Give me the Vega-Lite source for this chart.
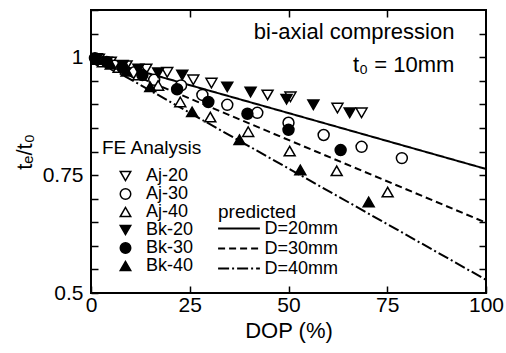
{
  "$schema": "https://vega.github.io/schema/vega-lite/v6.json",
  "width": 395,
  "height": 283,
  "autosize": {"type": "none"},
  "padding": {"left": 91, "top": 10, "right": 20, "bottom": 60},
  "background": "white",
  "config": {
    "font": "Liberation Sans",
    "view": {"stroke": "black", "strokeWidth": 2},
    "axis": {"domain": false, "grid": false, "tickColor": "black", "tickWidth": 1.5, "labelColor": "black", "titleColor": "black", "titleFontWeight": "normal", "labelFlush": false}
  },
  "datasets": {
    "pts": [
      {"s": "Aj-20", "x": 2, "y": 0.996}, {"s": "Aj-20", "x": 5, "y": 0.99}, {"s": "Aj-20", "x": 9, "y": 0.982}, {"s": "Aj-20", "x": 14, "y": 0.975}, {"s": "Aj-20", "x": 19.3, "y": 0.968}, {"s": "Aj-20", "x": 25.9, "y": 0.952}, {"s": "Aj-20", "x": 30.5, "y": 0.945}, {"s": "Aj-20", "x": 44.7, "y": 0.92}, {"s": "Aj-20", "x": 50.5, "y": 0.916}, {"s": "Aj-20", "x": 62.4, "y": 0.892}, {"s": "Aj-20", "x": 68.5, "y": 0.882},
      {"s": "Aj-30", "x": 2, "y": 0.993}, {"s": "Aj-30", "x": 6, "y": 0.982}, {"s": "Aj-30", "x": 11, "y": 0.968}, {"s": "Aj-30", "x": 16, "y": 0.952}, {"s": "Aj-30", "x": 22.8, "y": 0.94}, {"s": "Aj-30", "x": 28.2, "y": 0.92}, {"s": "Aj-30", "x": 34.5, "y": 0.899}, {"s": "Aj-30", "x": 42.1, "y": 0.882}, {"s": "Aj-30", "x": 50, "y": 0.861}, {"s": "Aj-30", "x": 58.9, "y": 0.835}, {"s": "Aj-30", "x": 68.5, "y": 0.81}, {"s": "Aj-30", "x": 78.7, "y": 0.786},
      {"s": "Aj-40", "x": 3, "y": 0.99}, {"s": "Aj-40", "x": 7, "y": 0.978}, {"s": "Aj-40", "x": 12, "y": 0.962}, {"s": "Aj-40", "x": 17, "y": 0.94}, {"s": "Aj-40", "x": 22.6, "y": 0.905}, {"s": "Aj-40", "x": 30.2, "y": 0.873}, {"s": "Aj-40", "x": 39.8, "y": 0.842}, {"s": "Aj-40", "x": 50.3, "y": 0.801}, {"s": "Aj-40", "x": 62.2, "y": 0.759}, {"s": "Aj-40", "x": 75.1, "y": 0.714},
      {"s": "Bk-20", "x": 1.5, "y": 0.997}, {"s": "Bk-20", "x": 4, "y": 0.99}, {"s": "Bk-20", "x": 8, "y": 0.983}, {"s": "Bk-20", "x": 12, "y": 0.975}, {"s": "Bk-20", "x": 17, "y": 0.967}, {"s": "Bk-20", "x": 23.1, "y": 0.962}, {"s": "Bk-20", "x": 34.5, "y": 0.937}, {"s": "Bk-20", "x": 40.4, "y": 0.926}, {"s": "Bk-20", "x": 49.5, "y": 0.911}, {"s": "Bk-20", "x": 56.3, "y": 0.899}, {"s": "Bk-20", "x": 65.5, "y": 0.882},
      {"s": "Bk-30", "x": 1, "y": 0.998}, {"s": "Bk-30", "x": 4, "y": 0.99}, {"s": "Bk-30", "x": 8, "y": 0.978}, {"s": "Bk-30", "x": 13, "y": 0.962}, {"s": "Bk-30", "x": 21.8, "y": 0.932}, {"s": "Bk-30", "x": 29.7, "y": 0.905}, {"s": "Bk-30", "x": 39.6, "y": 0.88}, {"s": "Bk-30", "x": 50, "y": 0.846}, {"s": "Bk-30", "x": 63.2, "y": 0.803},
      {"s": "Bk-40", "x": 1.5, "y": 0.995}, {"s": "Bk-40", "x": 5, "y": 0.985}, {"s": "Bk-40", "x": 9, "y": 0.97}, {"s": "Bk-40", "x": 15, "y": 0.937}, {"s": "Bk-40", "x": 25.6, "y": 0.884}, {"s": "Bk-40", "x": 37.6, "y": 0.825}, {"s": "Bk-40", "x": 53, "y": 0.761}, {"s": "Bk-40", "x": 70.3, "y": 0.693}
    ],
    "pred": [
      {"D": "D=20mm", "x": 0, "y": 1}, {"D": "D=20mm", "x": 100, "y": 0.763},
      {"D": "D=30mm", "x": 0, "y": 1}, {"D": "D=30mm", "x": 100, "y": 0.649},
      {"D": "D=40mm", "x": 0, "y": 1}, {"D": "D=40mm", "x": 100, "y": 0.528}
    ],
    "notes": [
      {"x": 92, "y": 1.053, "t": "bi-axial compression"},
      {"x": 92, "y": 0.983, "t": "t₀ = 10mm"}
    ]
  },
  "resolve": {"axis": {"x": "independent", "y": "independent"}},
  "layer": [
    {
      "data": {"name": "pred"},
      "mark": {"type": "line", "color": "black", "strokeWidth": 2},
      "encoding": {
        "x": {"field": "x", "type": "quantitative", "scale": {"domain": [0, 100], "nice": false},
              "axis": {"orient": "bottom", "values": [0, 25, 50, 75, 100], "title": "DOP (%)", "labelFontSize": 21, "titleFontSize": 22, "tickSize": -7, "labelPadding": 8, "titlePadding": 5}},
        "y": {"field": "y", "type": "quantitative", "scale": {"domain": [0.5, 1.1], "nice": false, "zero": false},
              "axis": {"orient": "left", "values": [0.5, 0.55, 0.6, 0.65, 0.7, 0.75, 0.8, 0.85, 0.9, 0.95, 1, 1.05, 1.1],
                       "labelExpr": "datum.value == 0.5 ? '0.5' : datum.value == 0.75 ? '0.75' : datum.value == 1 ? '1' : ''",
                       "title": "tₑ/t₀", "labelFontSize": 21, "titleFontSize": 22, "tickSize": -7, "labelPadding": 15, "titlePadding": 6}},
        "detail": {"field": "D"},
        "strokeDash": {"field": "D", "type": "nominal",
          "scale": {"domain": ["D=20mm", "D=30mm", "D=40mm"], "range": [[1, 0], [7, 4], [11, 3, 2, 3]]},
          "legend": {"orient": "none", "legendX": 127, "legendY": 193, "title": "predicted", "titleFontSize": 19, "titleFontWeight": "normal", "titleColor": "black", "labelFontSize": 18, "labelColor": "black",
                     "symbolType": "M-2.2,0H2.2", "symbolSize": 361, "symbolStrokeColor": "black", "symbolStrokeWidth": 2, "symbolOffset": 10.5, "rowPadding": 0, "titlePadding": -4, "labelOffset": 15,
                     "encode": {"symbols": {"update": {"fill": {"value": "transparent"}, "stroke": {"value": "black"}}}}}}
      }
    },
    {
      "data": {"name": "pts"},
      "mark": {"type": "point", "filled": true, "stroke": "black", "strokeWidth": 1.5, "size": 120, "opacity": 1},
      "encoding": {
        "x": {"field": "x", "type": "quantitative", "axis": {"orient": "top", "values": [25, 50, 75], "labels": false, "title": null, "tickSize": -7}},
        "y": {"field": "y", "type": "quantitative", "axis": {"orient": "right", "values": [0.55, 0.6, 0.65, 0.7, 0.75, 0.8, 0.85, 0.9, 0.95, 1, 1.05], "labels": false, "title": null, "tickSize": -7}},
        "shape": {"field": "s", "type": "nominal",
          "scale": {"domain": ["Aj-20", "Aj-30", "Aj-40", "Bk-20", "Bk-30", "Bk-40"], "range": ["triangle-down", "circle", "triangle-up", "triangle-down", "circle", "triangle-up"]},
          "legend": {"orient": "none", "legendX": 11, "legendY": 129, "title": "FE Analysis", "titleFontSize": 19, "titleFontWeight": "normal", "titleColor": "black", "labelFontSize": 18, "labelColor": "black", "symbolSize": 110, "rowPadding": 0, "symbolOffset": 14.5, "labelOffset": 11.5, "titlePadding": 9,
                     "encode": {"symbols": {"update": {"stroke": {"value": "black"}, "strokeWidth": {"value": 1.5}, "opacity": {"value": 1}}}}}},
        "fill": {"field": "s", "type": "nominal",
          "scale": {"domain": ["Aj-20", "Aj-30", "Aj-40", "Bk-20", "Bk-30", "Bk-40"], "range": ["white", "white", "white", "black", "black", "black"]},
          "legend": {"orient": "none", "legendX": 11, "legendY": 129, "title": "FE Analysis", "titleFontSize": 19, "titleFontWeight": "normal", "titleColor": "black", "labelFontSize": 18, "labelColor": "black", "symbolSize": 110, "rowPadding": 0, "symbolOffset": 14.5, "labelOffset": 11.5, "titlePadding": 9,
                     "encode": {"symbols": {"update": {"stroke": {"value": "black"}, "strokeWidth": {"value": 1.5}, "opacity": {"value": 1}}}}}}
      }
    },
    {
      "data": {"name": "notes"},
      "mark": {"type": "text", "align": "right", "baseline": "middle", "fontSize": 22, "color": "black"},
      "encoding": {
        "x": {"field": "x", "type": "quantitative", "axis": null},
        "y": {"field": "y", "type": "quantitative", "axis": null},
        "text": {"field": "t"}
      }
    }
  ]
}
